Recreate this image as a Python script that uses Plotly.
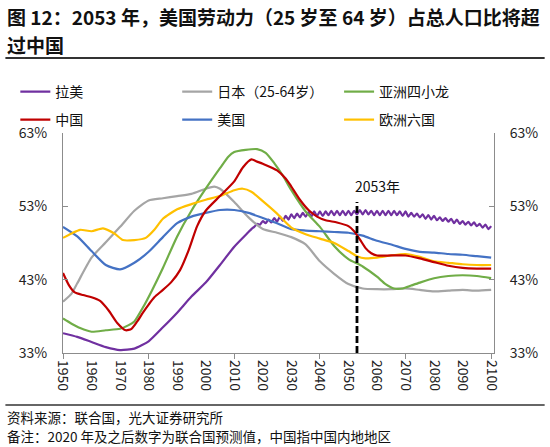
import plotly.graph_objects as go

FONT = "Noto Sans CJK SC"

# ---------------- data ----------------
latam_years = [1950, 1955, 1960, 1965, 1970, 1975, 1980, 1985, 1990, 1995, 2000, 2005, 2010, 2015,
               2016, 2017, 2018, 2019, 2020, 2021, 2022, 2023, 2024, 2025, 2026, 2027, 2028, 2029,
               2030, 2031, 2032, 2033, 2034, 2035, 2036, 2037, 2038, 2039, 2040, 2041, 2042, 2043,
               2044, 2045, 2046, 2047, 2048, 2049, 2050, 2051, 2052, 2053, 2054, 2055, 2056, 2057,
               2058, 2059, 2060, 2061, 2062, 2063, 2064, 2065, 2066, 2067, 2068, 2069, 2070, 2071,
               2072, 2073, 2074, 2075, 2076, 2077, 2078, 2079, 2080, 2081, 2082, 2083, 2084, 2085,
               2086, 2087, 2088, 2089, 2090, 2091, 2092, 2093, 2094, 2095, 2096, 2097, 2098, 2099, 2100]
latam_vals = [35.7, 35.2, 34.5, 33.8, 33.4, 33.6, 34.6, 36.5, 38.5, 40.7, 42.6, 45.0, 47.5, 49.5,
              49.9, 50.2, 50.6, 50.5, 51.0, 50.7, 51.2, 50.8, 51.4, 50.9, 51.6, 51.0, 51.7, 51.2,
              51.9, 51.4, 52.0, 51.5, 52.1, 51.6, 52.2, 51.6, 52.3, 51.7, 52.3, 51.7, 52.3, 51.8,
              52.4, 51.8, 52.4, 51.8, 52.4, 51.8, 52.4, 51.8, 52.4, 51.9, 52.5, 51.9, 52.5, 51.9,
              52.4, 51.8, 52.4, 51.8, 52.4, 51.8, 52.4, 51.8, 52.4, 51.8, 52.3, 51.7, 52.3, 51.6,
              52.1, 51.6, 52.0, 51.5, 51.9, 51.3, 51.8, 51.2, 51.7, 51.1, 51.5, 51.0, 51.4, 50.9,
              51.3, 50.7, 51.2, 50.6, 51.0, 50.5, 50.9, 50.4, 50.8, 50.3, 50.6, 50.1, 50.5, 49.9, 50.3]

japan_years = [1950, 1953, 1955, 1960, 1965, 1970, 1975, 1980, 1985, 1990, 1995, 2000, 2003, 2005,
               2010, 2015, 2020, 2025, 2030, 2035, 2040, 2045, 2050, 2055, 2060, 2065, 2070, 2075,
               2080, 2085, 2090, 2095, 2100]
japan_vals = [40.0, 41.1, 42.5, 46.0, 48.1, 50.2, 52.4, 53.8, 54.1, 54.4, 54.7, 55.4, 55.7, 55.4,
              53.6, 51.5, 49.9, 49.4, 48.8, 47.8, 45.5, 43.8, 42.4, 41.8, 41.7, 41.7, 41.8, 41.6,
              41.4, 41.5, 41.6, 41.5, 41.6]

tigers_years = [1950, 1953, 1956, 1960, 1965, 1970, 1973, 1975, 1978, 1981, 1985, 1990, 1995, 2000,
                2005, 2008, 2010, 2014, 2018, 2021, 2024, 2027, 2030, 2035, 2040, 2045, 2050, 2055,
                2060, 2063, 2066, 2069, 2072, 2075, 2080, 2085, 2090, 2095, 2100]
tigers_vals = [37.7, 37.0, 36.4, 35.9, 36.1, 36.3, 36.8, 37.3, 39.2, 41.4, 44.6, 48.9, 52.4, 55.4,
               58.2, 59.8, 60.4, 60.7, 60.8, 60.3, 58.9, 57.2, 55.2, 52.3, 50.2, 47.6, 45.8, 44.8,
               43.4, 42.4, 41.8, 41.8, 42.2, 42.6, 43.2, 43.5, 43.6, 43.5, 43.2]

china_years = [1950, 1952, 1954, 1957, 1960, 1963, 1966, 1969, 1972, 1974, 1976, 1978, 1980, 1982,
               1985, 1988, 1991, 1994, 1997, 2000, 2005, 2010, 2013, 2016, 2018, 2020, 2025, 2028,
               2030, 2033, 2036, 2039, 2042, 2046, 2050, 2052, 2054, 2056, 2058, 2060, 2065, 2070,
               2075, 2080, 2085, 2090, 2095, 2100]
china_vals = [43.9, 42.3, 41.3, 40.9, 40.6, 40.1, 38.8, 37.1, 36.1, 36.3, 37.3, 38.5, 39.6, 40.6,
              41.6, 42.7, 44.3, 47.0, 50.3, 52.4, 54.4, 56.4, 58.3, 59.4, 59.1, 58.8, 57.9, 56.8,
              55.7, 53.9, 52.5, 51.6, 51.1, 50.8, 50.3, 49.6, 48.5, 47.3, 46.6, 46.3, 46.3, 46.3,
              45.9, 45.4, 44.9, 44.6, 44.5, 44.5]

usa_years = [1950, 1955, 1960, 1965, 1970, 1975, 1980, 1985, 1990, 1995, 2000, 2005, 2010, 2015,
             2020, 2025, 2030, 2035, 2040, 2045, 2050, 2055, 2060, 2065, 2070, 2075, 2080, 2085,
             2090, 2095, 2100]
usa_vals = [50.2, 48.9, 46.9, 45.0, 44.4, 45.3, 46.8, 48.8, 50.7, 51.6, 52.1, 52.5, 52.5, 52.1,
            51.4, 50.7, 49.9, 49.7, 49.6, 49.5, 49.4, 49.0, 48.3, 47.8, 47.2, 46.8, 46.7, 46.5,
            46.4, 46.2, 46.0]

europe_years = [1950, 1953, 1956, 1960, 1964, 1968, 1971, 1975, 1979, 1982, 1985, 1990, 1995, 2000,
                2005, 2010, 2013, 2016, 2020, 2025, 2030, 2035, 2040, 2045, 2050, 2053, 2056, 2060,
                2065, 2070, 2075, 2080, 2085, 2090, 2095, 2100]
europe_vals = [48.7, 49.3, 49.8, 49.6, 50.0, 49.3, 48.4, 48.4, 48.7, 49.8, 51.3, 52.6, 53.3, 53.9,
               54.4, 55.2, 55.4, 55.0, 53.7, 52.0, 50.1, 49.2, 48.6, 48.0, 46.9, 46.2, 45.9, 46.0,
               46.3, 46.5, 46.1, 45.5, 45.3, 45.1, 45.0, 45.0]

marker_year = 2053
marker_top = 53.6
marker_label = "2053年"

y_ticks = [33, 43, 53, 63]
x_label_ticks = list(range(1950, 2101, 10))
x_major_ticks = [1950, 1980, 2010, 2040, 2070, 2100]

title_line1 = "图 12：2053 年，美国劳动力（25 岁至 64 岁）占总人口比将超"
title_line2 = "过中国"
source_text = "资料来源：联合国，光大证券研究所"
note_text = "备注：2020 年及之后数字为联合国预测值，中国指中国内地地区"

series = [
    ("拉美", latam_years, latam_vals, "#7030A0"),
    ("日本（25-64岁）", japan_years, japan_vals, "#A5A5A5"),
    ("亚洲四小龙", tigers_years, tigers_vals, "#70AD47"),
    ("中国", china_years, china_vals, "#C00000"),
    ("美国", usa_years, usa_vals, "#4472C4"),
    ("欧洲六国", europe_years, europe_vals, "#FFC000"),
]

# ---------------- figure ----------------
W, H = 550, 447
ML, MR, MT, MB = 63, 53, 133, 94
PW, PH = W - ML - MR, H - MT - MB


def px_x(px):
    return (px - ML) / PW


def px_y(py):
    return (H - MB - py) / PH


fig = go.Figure()

legend_names = ["legend", "legend2", "legend3", "legend4", "legend5", "legend6"]
draw_order = [0, 1, 2, 4, 5, 3]
for i in draw_order:
    name, xs, ys, color = series[i]
    fig.add_trace(go.Scatter(
        x=xs, y=ys, name=name, mode="lines",
        line=dict(color=color, width=2.2, shape="spline", smoothing=0.6),
        legend=legend_names[i], hoverinfo="skip",
    ))

fig.add_trace(go.Scatter(
    x=[marker_year, marker_year], y=[y_ticks[0], marker_top], mode="lines",
    line=dict(color="black", width=2.8, dash="7px,3px"), showlegend=False, hoverinfo="skip",
))

# dummy trace for secondary axes (right y-axis and label x-axis)
fig.add_trace(go.Scatter(x=[x_label_ticks[0]], y=[y_ticks[0]], mode="lines", xaxis="x2", yaxis="y2",
                         showlegend=False, hoverinfo="skip", line=dict(width=0)))

axis_col = "#8C8C8C"
tick_font = dict(family=FONT, size=14, color="#222222")

col_px = [15, 178, 341]
row_px = [76, 104]
legends = {}
for i, lname in enumerate(legend_names):
    legends[lname] = dict(
        orientation="h", x=px_x(col_px[i % 3]), xanchor="left", y=px_y(row_px[i // 3]), yanchor="top",
        font=dict(family=FONT, size=14, color="#111111"), bgcolor="rgba(0,0,0,0)", itemwidth=30,
    )

fig.update_layout(
    width=W, height=H,
    margin=dict(l=ML, r=MR, t=MT, b=MB, pad=0),
    paper_bgcolor="white", plot_bgcolor="white",
    font=dict(family=FONT, size=14, color="#222222"),
    xaxis=dict(range=[1950, 2101], tickvals=x_major_ticks, showticklabels=False,
               ticks="outside", ticklen=5, tickcolor=axis_col, tickwidth=1,
               showline=True, linecolor=axis_col, linewidth=1, showgrid=False, zeroline=False),
    xaxis2=dict(range=[1950, 2101], overlaying="x", anchor="y", side="bottom",
                tickvals=x_label_ticks, ticktext=[str(v) for v in x_label_ticks],
                tickangle=90, ticks="", showline=False, showgrid=False, zeroline=False,
                tickfont=tick_font, ticklabelstandoff=6),
    yaxis=dict(range=[33, 63], tickvals=y_ticks, ticktext=[f"{v}%" for v in y_ticks],
               ticks="inside", ticklen=5, tickcolor=axis_col, showline=True, linecolor=axis_col,
               linewidth=1, showgrid=False, zeroline=False, tickfont=tick_font, ticklabelstandoff=12),
    yaxis2=dict(range=[33, 63], overlaying="y", side="right", anchor="x", tickvals=y_ticks,
                ticktext=[f"{v}%" for v in y_ticks], ticks="inside", ticklen=5, tickcolor=axis_col,
                showline=True, linecolor=axis_col, linewidth=1, showgrid=False, zeroline=False,
                tickfont=tick_font, ticklabelstandoff=12),
    showlegend=True,
    **legends,
)

# title
fig.add_annotation(text=f"<b>{title_line1}</b>", xref="paper", yref="paper", x=px_x(5), y=px_y(17),
                   xanchor="left", yanchor="middle", showarrow=False,
                   font=dict(family=FONT, size=19, color="#111111"))
fig.add_annotation(text=f"<b>{title_line2}</b>", xref="paper", yref="paper", x=px_x(5), y=px_y(44),
                   xanchor="left", yanchor="middle", showarrow=False,
                   font=dict(family=FONT, size=19, color="#111111"))
fig.add_shape(type="line", xref="paper", yref="paper", x0=px_x(5), x1=px_x(548), y0=px_y(58), y1=px_y(58),
              line=dict(color="#333333", width=2))

# marker label
fig.add_annotation(text=marker_label, xref="x", yref="y", x=marker_year, y=55.8, xanchor="left",
                   yanchor="middle", xshift=-4, showarrow=False,
                   font=dict(family=FONT, size=14, color="#111111"))

# footer
fig.add_shape(type="line", xref="paper", yref="paper", x0=px_x(5), x1=px_x(548), y0=px_y(405), y1=px_y(405),
              line=dict(color="#333333", width=1.5))
fig.add_annotation(text=source_text, xref="paper", yref="paper", x=px_x(5), y=px_y(417),
                   xanchor="left", yanchor="middle", showarrow=False,
                   font=dict(family=FONT, size=13.5, color="#111111"))
fig.add_annotation(text=note_text, xref="paper", yref="paper", x=px_x(5), y=px_y(436),
                   xanchor="left", yanchor="middle", showarrow=False,
                   font=dict(family=FONT, size=13.5, color="#111111"))

fig.write_html("out.html", config={"displayModeBar": False},
               post_script="document.body.style.margin='0';")
